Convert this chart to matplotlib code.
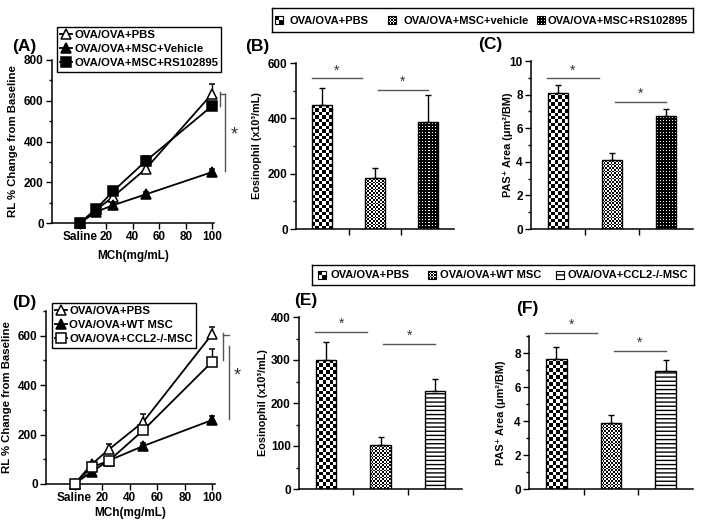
import numpy as np
import matplotlib
matplotlib.use("Agg")
import matplotlib.pyplot as plt
from matplotlib.patches import Rectangle
from matplotlib.lines import Line2D
from matplotlib.ticker import MultipleLocator

plt.rcParams["font.family"] = ["Liberation Sans", "DejaVu Sans"]
plt.rcParams["font.weight"] = "bold"
plt.rcParams["axes.labelweight"] = "bold"
plt.rcParams["hatch.linewidth"] = 1.0

W, H = 704, 525

# ---- line panels (A, D) ----
doses = [0, 12.5, 25, 50, 100]
dose_ticks = [0, 20, 40, 60, 80, 100]
dose_labels = ["Saline", "20", "40", "60", "80", "100"]

a_labels = ["OVA/OVA+PBS", "OVA/OVA+MSC+Vehicle", "OVA/OVA+MSC+RS102895"]
a_pbs = [0, 65, 128, 267, 635]
a_pbs_err = [0, 10, 15, 22, 45]
a_veh = [0, 55, 87, 141, 250]
a_veh_err = [0, 8, 10, 10, 15]
a_rs = [0, 70, 155, 305, 575]
a_rs_err = [0, 10, 12, 25, 20]

d_labels = ["OVA/OVA+PBS", "OVA/OVA+WT MSC", "OVA/OVA+CCL2-/-MSC"]
d_pbs = [0, 80, 140, 252, 607]
d_pbs_err = [0, 10, 22, 30, 30]
d_wt = [0, 50, 95, 154, 259]
d_wt_err = [0, 8, 8, 10, 15]
d_ccl2 = [0, 68, 94, 218, 495]
d_ccl2_err = [0, 10, 10, 25, 50]

# ---- bar panels (B, C, E, F) ----
b_legend = ["OVA/OVA+PBS", "OVA/OVA+MSC+vehicle", "OVA/OVA+MSC+RS102895"]
b_eos = [448, 183, 385]
b_eos_err = [61, 38, 98]
b_sig = [545, 503]
c_pas = [8.1, 4.08, 6.7]
c_pas_err = [0.5, 0.45, 0.45]
c_sig = [8.97, 7.57]

e_legend = ["OVA/OVA+PBS", "OVA/OVA+WT MSC", "OVA/OVA+CCL2-/-MSC"]
e_eos = [300, 102, 228]
e_eos_err = [43, 18, 27]
e_sig = [366, 338]
f_pas = [7.67, 3.86, 6.93]
f_pas_err = [0.68, 0.49, 0.67]
f_sig = [9.19, 8.12]

SIG_GRAY = "#555555"


def px(l, t, r, b):
    return [l / W, 1 - b / H, (r - l) / W, (b - t) / H]


def fx(x):
    return x / W


def fy(y):
    return 1 - y / H


def pattern(kind, wpx, hpx):
    if kind == "check":
        c = 3.4
    elif kind == "fine":
        c = 1.75
    else:
        c = 1.0
    nx = max(2, int(round(wpx / c)))
    ny = max(2, int(round(hpx / c)))
    jj, ii = np.meshgrid(np.arange(nx), np.arange(ny))
    if kind in ("check", "fine"):
        return ((ii + jj) % 2).astype(float)
    arr = np.zeros((ny, nx))
    arr[1::3, 1::3] = 1.0
    return arr


def fill_pattern(ax, patch, kind):
    if kind == "hlines":
        patch.set_hatch("----")
        return
    x0, y0 = patch.get_x(), patch.get_y()
    x1, y1 = x0 + patch.get_width(), y0 + patch.get_height()
    p0 = ax.transData.transform((x0, y0))
    p1 = ax.transData.transform((x1, y1))
    arr = pattern(kind, abs(p1[0] - p0[0]), abs(p1[1] - p0[1]))
    im = ax.imshow(arr, extent=(x0, x1, y0, y1), aspect="auto", cmap="gray",
                   vmin=0, vmax=1, interpolation="nearest", zorder=1.5)
    im.set_clip_path(patch)


def style_axes(ax):
    for s in ["top", "right"]:
        ax.spines[s].set_visible(False)
    for s in ["left", "bottom"]:
        ax.spines[s].set_linewidth(1.1)
    ax.tick_params(which="major", direction="out", length=4, width=1, labelsize=8.5, pad=2)
    ax.tick_params(which="minor", direction="out", length=2, width=1)


def line_panel(rect, xlabpad, xlim, ylim, series, leg_rect, bracket, star):
    ax = fig.add_axes(px(*rect))
    handles = []
    for y, err, marker, face, label in series:
        ax.errorbar(doses, y, yerr=[np.zeros(len(err)), err], color="black", lw=1.3,
                    marker=marker, mfc=face, mec="black", mew=1.1, ms=6.5,
                    capsize=2.5, elinewidth=1, clip_on=False, zorder=3)
        handles.append(Line2D([], [], color="black", lw=1.3, marker=marker, mfc=face,
                              mec="black", mew=1.1, ms=6.5, label=label))
    ax.set_xlim(*xlim)
    ax.set_ylim(*ylim)
    ax.set_xticks(dose_ticks)
    ax.set_xticklabels(dose_labels)
    ax.set_yticks(np.arange(0, ylim[1] + 1, 200))
    ax.yaxis.set_minor_locator(MultipleLocator(100))
    style_axes(ax)
    ax.set_ylabel("RL % Change from Baseline", fontsize=8.2, labelpad=4)
    ax.set_xlabel("MCh(mg/mL)", fontsize=8.5, labelpad=xlabpad)
    l, t, r, b = leg_rect
    ax.legend(handles=handles, loc="upper left", bbox_to_anchor=(fx(l), fy(t)),
              bbox_transform=fig.transFigure, frameon=True, fancybox=False,
              edgecolor="black", framealpha=1, fontsize=8.2, handlelength=1.0,
              handletextpad=0.2, labelspacing=0.35, borderpad=0.3, borderaxespad=0)
    # significance bracket
    (xa, ya0, ya1), (xb, yb0, yb1) = bracket
    ax.plot([xa, xa], [ya0, ya1], color=SIG_GRAY, lw=1, clip_on=False)
    ax.plot([xa, xb], [ya0 - 10, ya0 - 10], color=SIG_GRAY, lw=1, clip_on=False)
    ax.plot([xb, xb], [yb0, yb1], color=SIG_GRAY, lw=1, clip_on=False)
    ax.text(star[0], star[1], "*", fontsize=13, fontweight="normal", ha="center",
            va="center", color="#333333", clip_on=False)
    return ax


def bar_panel(rect, values, errs, kinds, ylim, ystep, minor, ylabel, ylab_x, sig):
    l, t, r, b = rect
    ax = fig.add_axes(px(l, t, r, b))
    x = np.arange(len(values))
    ax.set_xlim(-0.5, 2.5)
    ax.set_ylim(*ylim)
    bars = ax.bar(x, values, width=0.38, facecolor="none", edgecolor="black", lw=1, zorder=2)
    for bar, kind in zip(bars, kinds):
        fill_pattern(ax, bar, kind)
    ax.errorbar(x, values, yerr=[np.zeros(len(errs)), errs], fmt="none", ecolor="black",
                elinewidth=1, capsize=2.5, capthick=1, zorder=3)
    ax.set_xlim(-0.5, 2.5)
    ax.set_ylim(*ylim)
    ax.set_xticks([0.5, 1.5])
    ax.set_xticklabels([])
    ax.set_yticks(np.arange(0, ylim[1] + 1e-9, ystep))
    ax.yaxis.set_minor_locator(MultipleLocator(minor))
    style_axes(ax)
    ax.set_ylabel(ylabel, fontsize=7.8)
    ax.yaxis.set_label_coords((ylab_x - l) / (r - l), 0.5)
    for (x0, x1), h in zip([(-0.2, 0.75), (1.05, 2.0)], sig):
        ax.plot([x0, x1], [h, h], color=SIG_GRAY, lw=1, clip_on=False)
        ax.annotate("*", xy=((x0 + x1) / 2, h), xytext=(0, 0.5), textcoords="offset points",
                    ha="center", va="bottom", fontsize=10, fontweight="normal",
                    color="#333333", annotation_clip=False)
    return ax


def bar_legend(rect, labels, kinds, sw_x, tx_x):
    l, t, r, b = rect
    lax = fig.add_axes(px(l, t, r, b))
    lax.set_xlim(l, r)
    lax.set_ylim(b, t)
    lax.set_xticks([])
    lax.set_yticks([])
    for s in lax.spines.values():
        s.set_linewidth(1)
    yc = (t + b) / 2
    for label, kind, sx, tx in zip(labels, kinds, sw_x, tx_x):
        sw = Rectangle((sx, yc - 4), 8, 8, facecolor="none", edgecolor="black", lw=0.8, zorder=2)
        lax.add_patch(sw)
        if kind == "hlines":
            sw.set_hatch("---")
        else:
            arr = pattern(kind, 8, 8)
            im = lax.imshow(arr, extent=(sx, sx + 8, yc + 4, yc - 4), aspect="auto",
                            cmap="gray", vmin=0, vmax=1, interpolation="nearest", zorder=1.5)
            im.set_clip_path(sw)
        lax.text(tx, yc + 0.5, label, fontsize=8, va="center", ha="left")
    lax.set_xlim(l, r)
    lax.set_ylim(b, t)


fig = plt.figure(figsize=(W / 100, H / 100), dpi=100)

# (A)
line_panel((52, 60, 213.5, 223), 5, (-21, 101), (0, 800),
           [(a_pbs, a_pbs_err, "^", "white", a_labels[0]),
            (a_veh, a_veh_err, "^", "black", a_labels[1]),
            (a_rs, a_rs_err, "s", "black", a_labels[2])],
           (57, 27, 216, 77),
           ((106, 645, 572), (110, 635, 255)), (117, 431))

# (D)
line_panel((46, 311, 215, 484), 2, (-20.7, 102), (0, 700),
           [(d_pbs, d_pbs_err, "^", "white", d_labels[0]),
            (d_wt, d_wt_err, "^", "black", d_labels[1]),
            (d_ccl2, d_ccl2_err, "s", "white", d_labels[2])],
           (52, 303, 193, 352),
           ((108, 612, 500), (112, 560, 262)), (118, 437))

bar_kinds_top = ["check", "fine", "dots"]
bar_kinds_bot = ["check", "fine", "hlines"]

bar_panel((296, 63, 454, 229), b_eos, b_eos_err, bar_kinds_top, (0, 600), 200, 100,
          "Eosinophil (x10³/mL)", 262, b_sig)
bar_panel((531, 61, 693, 229), c_pas, c_pas_err, bar_kinds_top, (0, 10), 2, 1,
          "PAS⁺ Area (μm²/BM)", 513, c_sig)
bar_panel((299, 317, 462, 489), e_eos, e_eos_err, bar_kinds_bot, (0, 400), 100, 50,
          "Eosinophil (x10³/mL)", 268, e_sig)
bar_panel((529, 336, 693, 489), f_pas, f_pas_err, bar_kinds_bot, (0, 9), 2, 1,
          "PAS⁺ Area (μm²/BM)", 506, f_sig)

bar_legend((272, 8, 693, 32), b_legend, bar_kinds_top, [275, 388, 537], [290, 403, 548])
bar_legend((312, 265, 694, 285), e_legend, bar_kinds_bot, [318, 428, 556], [331, 440, 568])

for lab, x, y in [("(A)", 24, 46), ("(B)", 257, 46), ("(C)", 490, 44),
                  ("(D)", 24, 302), ("(E)", 306, 301), ("(F)", 527, 309)]:
    fig.text(fx(x), fy(y), lab, fontsize=12.5, ha="center", va="center")

fig.savefig("out.png", dpi=100)
